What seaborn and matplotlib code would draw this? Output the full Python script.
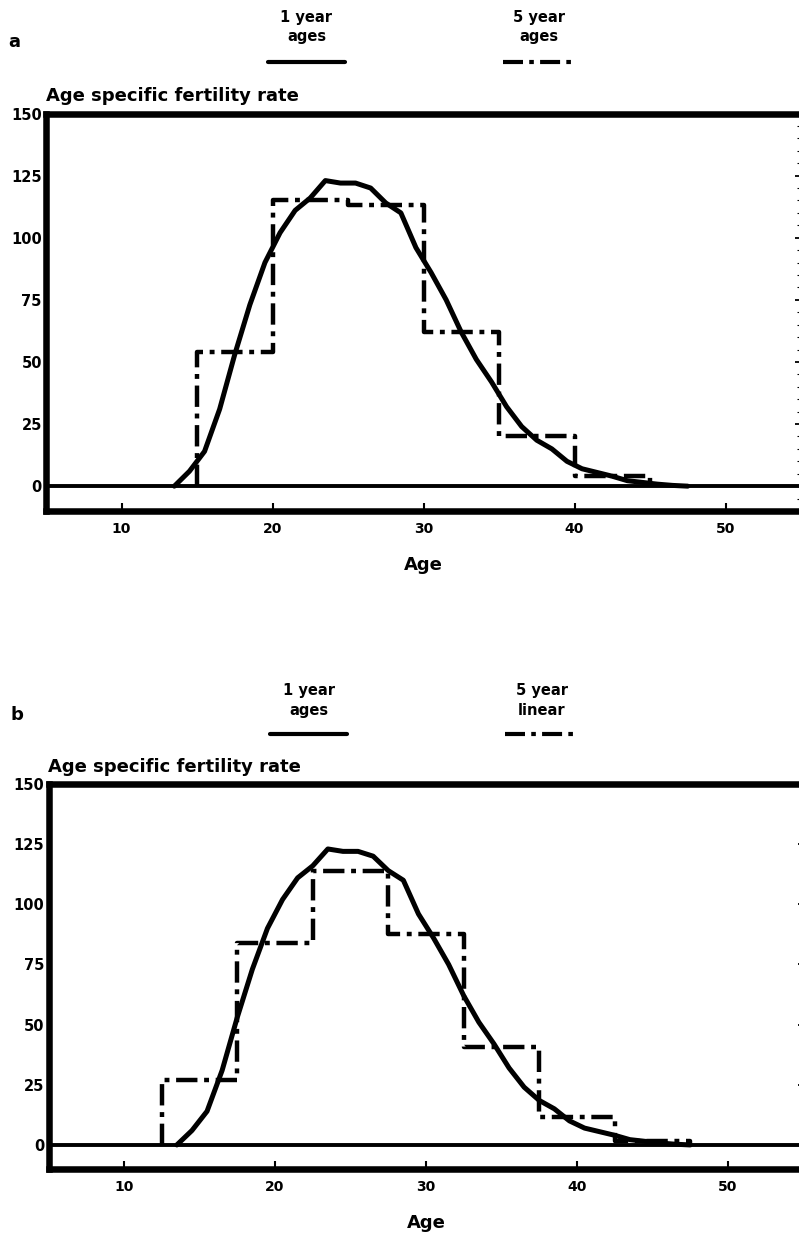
import numpy as np
import pandas as pd
import matplotlib
matplotlib.use("Agg")
import matplotlib.pyplot as plt
from matplotlib.lines import Line2D
from matplotlib.ticker import MultipleLocator
import seaborn as sns

##### DATA #####
# single year age specific fertility rates, plotted at mid-year
single_age = [13.5, 14.5, 15.5, 16.5, 17.5, 18.5, 19.5, 20.5, 21.5, 22.5, 23.5,
              24.5, 25.5, 26.5, 27.5, 28.5, 29.5, 30.5, 31.5, 32.5, 33.5, 34.5,
              35.5, 36.5, 37.5, 38.5, 39.5, 40.5, 41.5, 42.5, 43.5, 44.5, 45.5,
              46.5, 47.5]
single_rate = [0, 6, 14, 31, 53, 73, 90, 102, 111, 116, 123,
               122, 122, 120, 114, 110, 96, 86, 75, 62, 51, 42,
               32, 24, 18.5, 15, 10, 7, 5.5, 4, 2.2, 1.5, 0.8,
               0.3, 0]

# panel a: 5 year age groups
five_edges_a = [15, 20, 25, 30, 35, 40, 45]
five_rate_a = [54, 115, 113, 62, 20, 4]

# panel b: 5 year groups, linear (centred) placement
five_edges_b = [12.5, 17.5, 22.5, 27.5, 32.5, 37.5, 42.5, 47.5]
five_rate_b = [27, 84, 114, 87.5, 40.5, 11.5, 1.5]

panels = [
    ("a", five_edges_a, five_rate_a, "1 year\nages", "5 year\nages"),
    ("b", five_edges_b, five_rate_b, "1 year\nages", "5 year\nlinear"),
]

##### STYLE #####
sns.set_style("white")
plt.rcParams["font.family"] = ["DejaVu Sans"]
plt.rcParams["font.weight"] = "bold"
for key in ["text.color", "axes.labelcolor", "xtick.color", "ytick.color"]:
    plt.rcParams[key] = "black"

DASHDOT = (0, (4.8, 1.5, 1.1, 1.5))


def step_frame(edges, rates):
    # vertices of a closed step outline that starts and ends on zero
    xs = np.repeat(edges, 2)
    ys = np.concatenate([[0], np.repeat(rates, 2), [0]])
    return pd.DataFrame({"age": xs, "rate": ys})


single = pd.DataFrame({"age": single_age, "rate": single_rate})

fig = plt.figure(figsize=(7.99, 12.39), dpi=100)
positions = [
    [46 / 799, 1 - 511 / 1239, 755 / 799, 397.5 / 1239],
    [48.5 / 799, 1 - 1169 / 1239, 755 / 799, 385 / 1239],
]

for (letter, edges, rates, lab1, lab5), pos in zip(panels, positions):
    ax = fig.add_axes(pos)

    ax.axhline(0, color="black", lw=2.8, zorder=1)
    sns.lineplot(x="age", y="rate", data=single, ax=ax, color="black",
                 lw=3.6, estimator=None, sort=False, zorder=3)
    sns.lineplot(x="age", y="rate", data=step_frame(edges, rates), ax=ax,
                 color="black", lw=3.2, linestyle=DASHDOT,
                 estimator=None, sort=False, zorder=2)

    ax.set_xlim(5, 55)
    ax.set_ylim(-10, 150)
    ax.set_xticks([10, 20, 30, 40, 50])
    ax.set_yticks([0, 25, 50, 75, 100, 125, 150])
    ax.yaxis.set_minor_locator(MultipleLocator(5))

    for side in ["left", "top", "bottom"]:
        ax.spines[side].set_linewidth(4.7)
        ax.spines[side].set_color("black")
    ax.spines["right"].set_visible(False)

    ax.tick_params(axis="x", which="major", bottom=True, top=False,
                   direction="in", length=6, width=1.5, pad=8, labelsize=10)
    ax.tick_params(axis="y", which="major", left=False, right=True,
                   direction="in", length=4.5, width=1.3, pad=3,
                   labelsize=10.5)
    ax.tick_params(axis="y", which="minor", left=False, right=True,
                   direction="in", length=3, width=0.8)
    for lbl in ax.get_xticklabels() + ax.get_yticklabels():
        lbl.set_fontweight("bold")

    ax.set_xlabel("Age", fontsize=13, fontweight="bold", labelpad=14)
    ax.set_ylabel("")
    ax.set_title("Age specific fertility rate", loc="left", pad=9,
                 fontsize=13, fontweight="bold")

    # panel letter and key above the axes
    ax.text(-0.042, 1.18, letter, transform=ax.transAxes, ha="center",
            va="center", fontsize=13, fontweight="bold")
    ax.text(0.345, 1.217, lab1, transform=ax.transAxes, ha="center",
            va="center", fontsize=10.5, fontweight="bold", linespacing=1.35)
    ax.text(0.653, 1.217, lab5, transform=ax.transAxes, ha="center",
            va="center", fontsize=10.5, fontweight="bold", linespacing=1.35)
    ax.add_line(Line2D([0.294, 0.396], [1.13, 1.13], transform=ax.transAxes,
                       color="black", lw=3.0, clip_on=False))
    ax.add_line(Line2D([0.605, 0.701], [1.13, 1.13], transform=ax.transAxes,
                       color="black", lw=3.0, linestyle=DASHDOT,
                       clip_on=False))

    if ax.get_legend() is not None:
        ax.get_legend().remove()

fig.savefig("out.png", dpi=100, facecolor="white")
